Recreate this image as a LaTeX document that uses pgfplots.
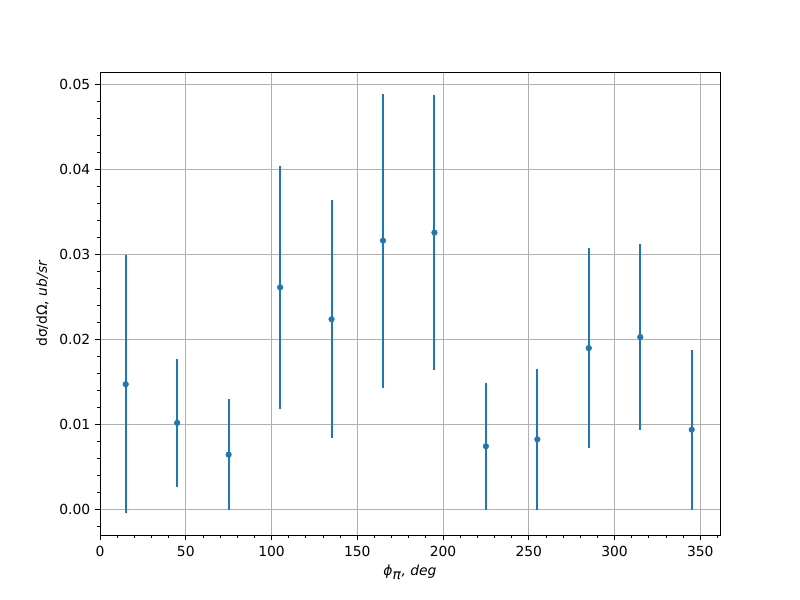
\documentclass[border=0pt]{standalone}
\usepackage{pgfplots}
\pgfplotsset{compat=1.18}
\usepackage{fontspec}
\setmainfont{DejaVu Sans}
\definecolor{c0}{HTML}{1F77B4}
\definecolor{gridc}{HTML}{B0B0B0}
\begin{document}
\fontsize{10.4}{12.5}\selectfont
\begin{tikzpicture}
\path[use as bounding box] (-75pt,-48.75pt) rectangle (525pt,401.25pt);
\begin{axis}[
  at={(0,0)}, anchor=south west,
  scale only axis,
  width=465pt, height=347.25pt,
  xmin=0, xmax=361.5,
  ymin=-0.003, ymax=0.0515,
  xtick={0,50,...,350},
  ytick={0,0.01,0.02,0.03,0.04,0.05},
  minor xtick={10,20,30,40,60,70,80,90,110,120,130,140,160,170,180,190,210,220,230,240,260,270,280,290,310,320,330,340,360},
  minor ytick={-0.002,0.002,0.004,0.006,0.008,0.012,0.014,0.016,0.018,0.022,0.024,0.026,0.028,0.032,0.034,0.036,0.038,0.042,0.044,0.046,0.048},
  yticklabel style={/pgf/number format/.cd,fixed,fixed zerofill,precision=2},
  scaled y ticks=false,
  /pgf/number format/assume math mode=true,
  tick align=outside,
  tick pos=left,
  major tick length=3.65pt,
  minor tick length=2.08pt,
  every tick/.style={black, line width=0.6pt},
  axis line style={line width=0.6pt},
  grid=major,
  major grid style={gridc, line width=0.6pt},
  minor grid style={draw=none},
  xlabel={$\textit{ϕ}_{\textit{π}}\textit{, deg}$},
  ylabel={dσ/dΩ, \textit{ub/sr}},
  xlabel style={at={(axis description cs:0.5,0)}, anchor=north, yshift=-19pt},
  ylabel style={at={(axis description cs:0,0.5)}, anchor=south, rotate=0, yshift=35pt},
  ticklabel style={font=\fontsize{10.4}{12.5}\selectfont},
  xticklabel style={yshift=-1pt},
  xlabel style={font=\fontsize{10.4}{12.5}\selectfont},
  ylabel style={font=\fontsize{10.4}{12.5}\selectfont},
]
\addplot[c0, only marks, mark=*, mark size=2.1pt, mark options={draw=c0, fill=c0},
  error bars/.cd, y dir=both, y explicit,
  error bar style={line width=1.55pt, c0}, error mark=none]
  coordinates {
  (15, 0.01475) +- (0, 0.01515)
  (45, 0.0102) +- (0, 0.0075)
  (75, 0.00647) +- (0, 0.0065)
  (105, 0.02615) +- (0, 0.0143)
  (135, 0.02239) +- (0, 0.0140)
  (165, 0.03165) +- (0, 0.0173)
  (195, 0.0326) +- (0, 0.0162)
  (225, 0.00745) +- (0, 0.0075)
  (255, 0.00826) +- (0, 0.0083)
  (285, 0.0190) +- (0, 0.0118)
  (315, 0.0203) +- (0, 0.0109)
  (345, 0.0094) +- (0, 0.0094)
  };
\end{axis}
\end{tikzpicture}
\end{document}
